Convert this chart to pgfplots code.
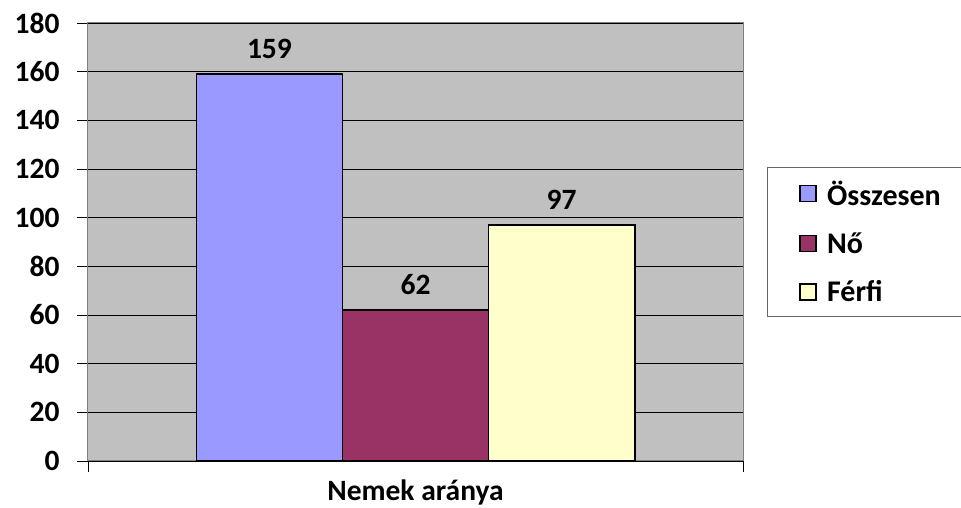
\documentclass[border=0pt]{standalone}
\usepackage{pgfplots}
\pgfplotsset{compat=1.18}
\usepackage{fontspec}
\setmainfont{Carlito}
\definecolor{cA}{HTML}{9999FF}
\definecolor{cB}{HTML}{993366}
\definecolor{cC}{HTML}{FFFFCC}
\definecolor{bg}{HTML}{C0C0C0}
\begin{document}
\begin{tikzpicture}[x=1pt,y=1pt]
\useasboundingbox (0,0) rectangle (961,508);
\begin{axis}[
  at={(88pt,47pt)}, anchor=south west,
  scale only axis, width=655pt, height=438pt,
  xmin=-0.5, xmax=0.5, ymin=0, ymax=180,
  ytick={0,20,...,180},
  xtick={-0.5,0.5}, xticklabels={},
  xtick pos=bottom, ytick pos=left,
  tick align=outside, major tick length=11pt,
  tick style={black, line width=0.8pt},
  ymajorgrids, grid style={black, line width=0.9pt},
  axis background/.style={fill=bg},
  axis line style={gray, line width=1pt},
  /pgf/number format/assume math mode=true,
  yticklabel style={font=\fontsize{29.5}{34}\selectfont\bfseries, xshift=-14pt},
  ybar=0pt, bar width=0.223,
  nodes near coords,
  every node near coord/.append style={font=\fontsize{29.5}{34}\selectfont\bfseries, anchor=south, yshift=11pt},
  legend style={at={(rel axis cs:1.0366,0.671)}, anchor=north west, draw=gray!80!black, line width=1pt,
    font=\fontsize{30}{35}\selectfont\bfseries, row sep=22pt, inner xsep=32pt, inner ysep=11pt},
  legend cell align=left,
  legend image code/.code={\draw[#1, line width=1.5pt, draw=black] (0pt,-8pt) rectangle (16pt,8pt); \path (24pt,0pt);},
]
\addplot[fill=cA, draw=black, line width=1.8pt, bar shift=-0.223] coordinates {(0,159)};
\addplot[fill=cB, draw=black, line width=1.8pt, bar shift=0] coordinates {(0,62)};
\addplot[fill=cC, draw=black, line width=1.8pt, bar shift=0.223] coordinates {(0,97)};
\legend{Összesen, Nő, Férfi}
\end{axis}
\node[font=\fontsize{29.5}{34}\selectfont\bfseries] at (415.5,16) {Nemek aránya};
\end{tikzpicture}
\end{document}
